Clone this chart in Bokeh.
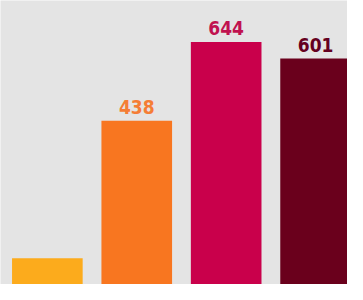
from bokeh.plotting import figure
from bokeh.models import ColumnDataSource, Range1d
from bokeh.core.properties import value
from bokeh.embed import file_html
from bokeh.resources import INLINE

# Data
positions = [0, 1, 2, 3]
values = [78, 438, 644, 601]
labels = ["", "438", "644", "601"]
bar_colors = ["#fcab1c", "#f87620", "#c9004b", "#6a001c"]
label_colors = ["#fcab1c", "#f57d35", "#c0124f", "#650020"]

BG = "#e4e4e4"

src = ColumnDataSource(dict(x=positions, top=values, label=labels,
                            color=bar_colors, lcolor=label_colors))

p = figure(width=347, height=284, output_backend="svg", toolbar_location=None,
           x_range=Range1d(-0.524, 3.357), y_range=Range1d(8.9, 753),
           min_border=0, background_fill_color=BG, border_fill_color=BG,
           outline_line_color=None)
p.axis.visible = False
p.grid.visible = False

p.vbar(x="x", top="top", bottom=0, width=0.79, color="color", line_color=None, source=src)
p.text(x="x", y="top", text="label", source=src, text_color="lcolor",
       text_align="center", text_baseline="alphabetic", y_offset=-14,
       text_font=value("DejaVu Sans Condensed"), text_font_style="bold",
       text_font_size="19px")

html = file_html(p, INLINE)
html = html.replace("<body>", '<body style="background:%s">' % BG, 1)
open("out.html", "w").write(html)
